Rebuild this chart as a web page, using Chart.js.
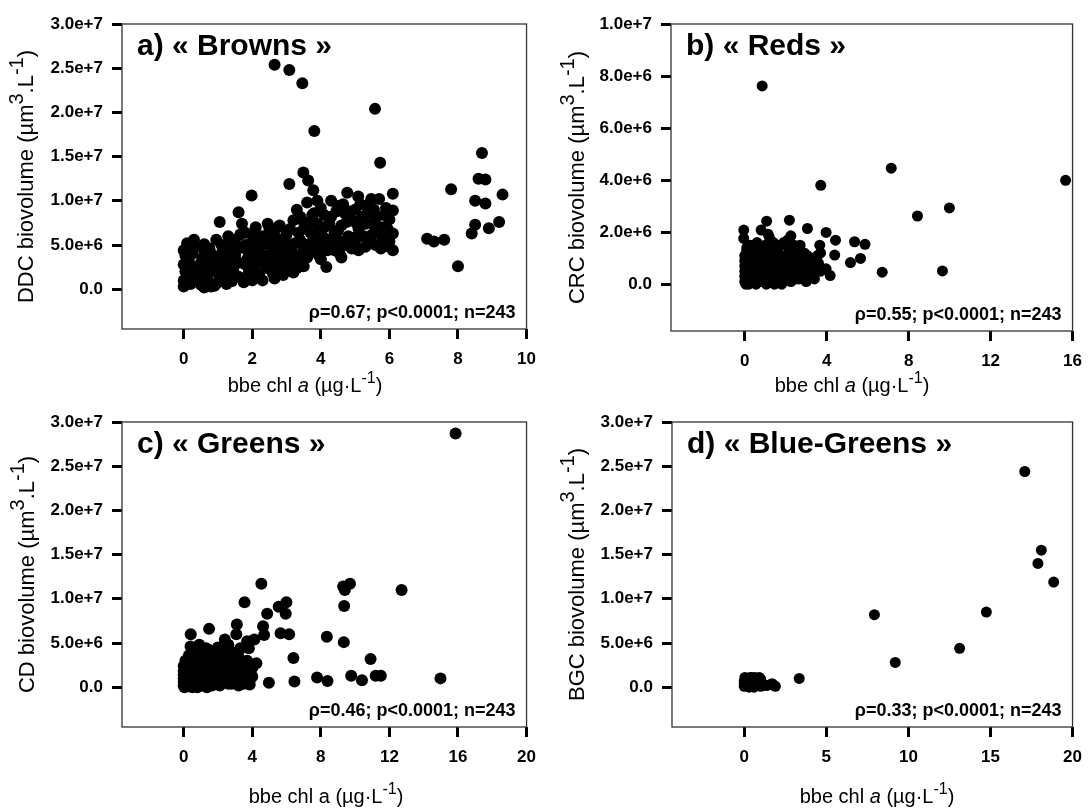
<!DOCTYPE html>
<html>
<head>
<meta charset="utf-8">
<script src="https://cdn.jsdelivr.net/npm/chart.js@4"></script>
<style>
  body { margin: 0; background: #fff; width: 1092px; height: 810px; position: relative; overflow: hidden; }
  canvas { position: absolute; }
</style>
</head>
<body>
<canvas id="panelA" width="546" height="410" style="left:0;top:0"></canvas>
<canvas id="panelB" width="546" height="410" style="left:546px;top:0"></canvas>
<canvas id="panelC" width="546" height="412" style="left:0;top:398px"></canvas>
<canvas id="panelD" width="546" height="412" style="left:546px;top:398px"></canvas>
<script>
// ---- data (x = bbe chl a in µg/L, y = biovolume in 1e6 µm3/L) ----
const brownsChl = [2.65,3.08,3.46,3.81,5.58,5.73,3.49,3.63,3.78,3.08,1.98,4.77,5.09,5.47,
  6.1,6.1,6.0,6.1,5.9,6.1,7.1,7.3,7.6,8.0,7.8,8.4,8.5,8.6,8.8,8.7,8.8,8.9,9.2,9.3,8.5,
  0,0,0.05,0,0.05,0,0.1,0.3,0.2,0.3,0.35,0.5,0.5,0.55,0.6,0.7,0.8,0.9,1.0,1.0,1.05,1.1,1.2,1.25,1.3,1.4,1.4,1.5,1.5,1.6,1.6,1.7,1.7,1.8,1.8,1.9,1.9,
  2.0,2.1,2.1,2.2,2.2,2.3,2.4,2.4,2.5,2.5,2.6,2.6,2.7,2.7,2.8,2.8,2.9,3.0,3.0,3.1,3.1,3.2,3.2,3.3,3.3,3.4,3.4,3.5,3.5,3.6,3.6,3.7,3.7,3.8,3.8,3.9,
  4.0,4.0,4.1,4.16,4.2,4.3,4.4,4.4,4.5,4.6,4.6,4.7,4.8,4.9,4.9,5.0,5.0,5.1,5.2,5.3,5.3,5.4,5.5,5.6,5.6,5.7,5.8,5.8,
  0.15,0.4,0.65,0.75,0.9,1.15,1.3,2.0,2.3,2.9,3.2,3.5,4.0,4.6,2.0,1.1,0.6,3.9,4.3,5.9,
  0.2,0.25,0.45,0.5,0.6,0.7,0.8,0.85,0.95,1.0,1.1,1.2,1.25,1.35,1.45,1.55,1.6,1.65,1.75,1.8,1.85,1.95,
  2.05,2.1,2.15,2.2,2.3,2.35,2.4,2.45,2.55,2.6,2.65,2.7,2.75,2.85,2.9,2.95,3.05,3.1,3.15,3.25,3.3,3.35,3.45,3.5,3.55,3.65,3.7,3.75,3.85,3.9,3.95,
  4.05,4.1,4.2,4.25,4.35,4.45,4.5,4.55,4.65,4.7,4.75,4.85,4.95,5.05,5.1,5.15,5.25,5.35,5.45,5.5,5.55,5.65,5.75,5.85,5.95,6.0];
const brownsVol = [25.4,24.8,23.3,17.9,20.4,14.3,13.2,12.3,11.2,11.9,10.6,10.9,10.5,10.2,
  10.8,8.9,7.9,6.3,4.9,4.4,5.7,5.4,5.6,2.6,11.3,6.3,10.0,12.5,12.4,15.4,9.7,6.9,7.6,10.7,7.3,
  0.3,1.0,2.0,2.8,3.8,4.4,5.2,5.6,0.6,1.5,4.8,0.5,2.4,3.5,5.1,1.1,4.0,2.1,0.8,3.3,7.6,5.0,1.6,4.3,6.0,2.6,0.9,3.8,5.6,8.7,1.4,4.7,7.4,2.8,6.4,3.9,1.9,
  5.4,7.0,3.0,1.6,4.6,6.0,2.4,3.6,5.0,6.9,1.8,4.2,3.0,5.8,7.2,2.2,4.6,3.4,6.2,5.0,2.4,7.8,4.0,9.0,3.0,5.5,8.2,6.8,4.6,9.8,3.6,7.6,5.2,8.6,4.2,6.2,
  9.2,4.8,7.0,2.5,5.6,8.2,6.4,4.4,9.4,7.2,5.4,8.6,6.0,4.6,7.8,9.0,5.4,6.8,8.2,4.8,7.4,9.6,6.2,8.0,5.0,10.2,7.0,5.8,
  3.2,2.0,3.0,4.6,0.4,2.6,3.6,2.4,3.2,1.6,1.9,2.6,3.4,3.6,1.0,1.2,0.2,10.0,10.0,9.2,
  2.6,4.0,1.2,3.0,4.2,2.0,0.3,3.0,5.6,1.8,4.0,3.0,0.6,5.0,2.0,4.6,3.0,6.2,0.8,5.0,3.4,4.4,
  6.2,2.0,4.0,5.4,1.0,3.8,5.6,7.4,3.0,6.2,1.2,4.6,7.0,3.8,5.6,2.8,4.4,6.8,3.6,5.2,2.4,6.4,3.8,7.6,5.0,4.0,6.4,8.4,5.4,7.4,3.8,
  6.0,8.4,4.4,7.4,5.4,8.8,6.6,4.0,9.6,5.0,7.6,8.8,5.8,7.4,4.4,9.6,6.0,8.6,5.4,7.4,9.0,6.6,4.6,8.4,6.8,5.4];

const redsChl = [0.85,7.15,3.71,15.66,8.43,9.99,5.87,5.36,5.65,5.16,6.71,9.65,4.43,4.39,4.17,3.97,3.97,3.66,3.44,3.15,
  3.06,2.18,2.25,1.07,0.80,1.14,-0.05,-0.05,0.26,1.6,2.6,
  0,0,0,0,0,0,0.1,0.15,0.2,0.2,0.3,0.3,0.4,0.4,0.5,0.5,0.6,0.6,0.7,0.8,0.8,0.9,0.9,1.0,1.1,1.1,1.2,1.3,1.3,1.4,1.5,1.5,1.6,1.7,1.8,1.8,1.9,
  2.0,2.0,2.2,2.2,2.3,2.4,2.5,2.6,2.7,2.8,2.9,3.0,3.1,3.3,3.4,3.6,3.7,2.1,1.2,0.5,0.1,1.4,2.7,
  0.05,0.1,0.1,0.2,0.25,0.3,0.35,0.45,0.5,0.55,0.6,0.65,0.7,0.75,0.85,0.9,0.95,1.0,1.05,1.15,1.2,1.25,1.35,1.4,1.45,1.55,1.6,1.65,1.75,1.8,1.85,1.95,
  2.05,2.1,2.15,2.25,2.3,2.35,2.45,2.5,2.55,2.65,2.7,2.75,2.85,2.9,3.0,3.05,3.2,3.25,3.4,3.5,3.55,3.7,1.9,0.6,2.4,1.0];
const redsVol = [7.62,4.46,3.80,3.99,2.62,2.93,1.53,1.63,0.99,0.83,0.46,0.51,1.69,1.12,0.33,0.59,1.99,1.50,0.99,0.23,
  2.14,2.46,1.86,2.42,2.08,1.92,2.08,1.76,1.50,1.50,1.40,
  0.1,0.3,0.5,0.7,0.9,1.1,0.2,0.6,1.0,0.4,0.8,0.1,0.5,1.2,0.3,0.9,0.6,0.1,1.0,0.4,0.8,1.3,0.2,0.6,1.0,0.3,0.8,1.4,0.5,0.2,0.9,0.6,1.2,0.4,0.8,1.5,0.2,
  0.6,1.1,0.9,0.3,1.3,0.6,0.2,1.0,0.5,0.8,1.2,0.4,0.7,1.0,0.5,0.8,1.2,1.7,1.8,1.4,1.3,1.6,1.5,
  0.0,0.6,1.4,0.0,0.8,1.3,0.3,0.7,1.1,0.0,0.9,0.3,1.3,0.6,0.1,0.9,0.5,1.2,0.0,0.7,1.3,0.3,1.0,0.6,0.0,1.3,0.3,0.8,1.1,0.0,0.5,1.0,
  0.3,0.8,1.4,0.1,0.7,1.1,0.4,0.9,1.3,0.2,0.7,1.1,0.4,0.9,0.1,1.1,0.5,0.9,0.2,0.7,1.1,0.5,1.6,1.6,1.5,1.5];

const greensChl = [15.86,4.53,9.30,9.7,9.4,12.71,9.36,3.55,5.54,5.99,5.95,4.87,4.63,4.69,4.12,3.7,5.65,6.15,8.35,9.34,
  6.40,10.9,4.24,4.97,6.46,7.78,8.39,9.77,10.4,11.2,11.5,14.98,3.1,3.07,2.4,1.48,0.91,0.41,
  0,0,0,0,0,0,0.1,0.2,0.2,0.3,0.3,0.4,0.5,0.5,0.6,0.7,0.7,0.8,0.9,0.9,1.0,1.1,1.1,1.2,1.3,1.3,1.4,1.5,1.5,1.6,1.7,1.8,1.9,
  2.0,2.0,2.1,2.2,2.3,2.4,2.5,2.6,2.7,2.8,2.9,3.0,3.1,3.2,3.3,3.4,3.5,3.6,3.7,3.9,4.0,0.4,1.0,2.6,3.3,
  0.05,0.1,0.1,0.15,0.2,0.25,0.3,0.35,0.4,0.45,0.5,0.55,0.6,0.65,0.7,0.75,0.8,0.85,0.95,1.0,1.05,1.1,1.15,1.2,1.25,1.3,1.35,1.4,1.45,1.55,1.6,1.65,1.7,1.75,1.8,1.85,1.95,
  2.05,2.1,2.15,2.2,2.3,2.35,2.4,2.45,2.55,2.6,2.65,2.75,2.8,2.85,2.95,3.0,3.05,3.15,3.2,3.25,3.35,3.45,3.5,3.6,3.65,3.75,3.85,4.0,3.8];
const greensVol = [28.7,11.7,11.4,11.7,11.0,11.0,9.2,9.6,9.1,9.6,8.3,8.3,6.9,5.9,5.4,5.2,6.1,6.0,5.7,5.1,
  3.3,3.2,2.7,0.5,0.65,1.1,0.7,1.3,0.8,1.3,1.3,1.0,7.1,6.0,5.4,6.6,4.8,6.0,
  0.2,0.6,1.0,1.4,1.8,2.4,3.0,0.4,1.2,2.0,3.6,0.8,1.6,2.8,0.2,1.0,3.2,2.2,0.5,1.6,4.0,2.6,0.9,1.8,0.3,3.0,1.2,2.2,4.2,0.7,3.4,1.6,2.6,
  0.5,4.5,1.2,3.0,2.0,0.8,3.8,1.6,2.6,0.4,3.4,1.4,2.2,4.0,1.0,2.8,0.4,1.8,3.0,1.0,2.2,4.6,2.0,4.8,4.4,
  0.0,0.8,2.0,1.4,2.6,0.1,1.0,3.0,0.4,2.2,0.0,1.2,3.6,0.6,2.4,1.6,0.0,2.8,1.2,0.2,3.4,1.6,0.5,2.6,1.2,4.4,0.0,2.0,3.4,1.0,2.8,0.2,1.8,4.0,0.8,3.0,1.8,
  2.8,0.2,3.8,1.4,4.0,0.6,2.6,1.8,3.2,0.4,4.2,1.2,3.0,2.0,0.8,3.8,2.6,1.6,0.2,3.2,2.0,1.2,2.8,0.8,2.4,1.6,0.3,1.2,4.4];

const blueChl = [17.09,18.10,17.89,18.85,7.93,14.75,13.12,9.2,3.35,1.82,1.4,0.92,0.46,0.04,
  0,0,0,0.1,0.2,0.3,0.4,0.5,0.6,0.7,0.8,0.9,1.0,1.1,1.2,0.3,0.6,1.6,1.9,
  0.15,0.45,0.75,0.85,0.35,0.65,1.0,1.7];
const blueVol = [24.4,15.5,14.0,11.9,8.2,8.5,4.4,2.8,1.0,0.2,0.2,1.1,1.1,1.1,
  0.1,0.4,0.7,1.0,0.2,0.5,0.9,0.1,0.4,0.8,0.2,0.6,0.1,0.4,0.2,0.0,0.0,0.3,0.1,
  0.7,0.4,0.5,1.0,1.1,1.1,0.9,0.4];

// ---- ticks ----
const ticksA = [0, 2, 4, 6, 8, 10];
const ticksB = [0, 4, 8, 12, 16];
const ticksC = [0, 4, 8, 12, 16, 20];
const ticksD = [0, 5, 10, 15, 20];
const volTicks30 = [0, 5e6, 1e7, 1.5e7, 2e7, 2.5e7, 3e7];
const volLabels30 = ['0.0', '5.0e+6', '1.0e+7', '1.5e+7', '2.0e+7', '2.5e+7', '3.0e+7'];
const volTicks10 = [0, 2e6, 4e6, 6e6, 8e6, 1e7];
const volLabels10 = ['0.0', '2.0e+6', '4.0e+6', '6.0e+6', '8.0e+6', '1.0e+7'];

const FONT = '"Liberation Sans", Arial, sans-serif';

// text with superscripts / italics: parts = [[text, kind]], kind '' | 'i' | 's'
function drawRich(ctx, parts, x, y, size, supScale) {
  const fontFor = k => (k === 'i' ? 'italic ' : '') + (k === 's' ? Math.round(size * supScale) : size) + 'px ' + FONT;
  let total = 0;
  parts.forEach(p => { ctx.font = fontFor(p[1]); total += ctx.measureText(p[0]).width; });
  let cx = x - total / 2;
  ctx.textAlign = 'left';
  ctx.textBaseline = 'alphabetic';
  parts.forEach(p => {
    ctx.font = fontFor(p[1]);
    ctx.fillText(p[0], cx, p[1] === 's' ? y - size * 0.45 : y);
    cx += ctx.measureText(p[0]).width;
  });
}

function decoPlugin(cfg) {
  return {
    id: 'deco',
    afterDraw(chart) {
      const ctx = chart.ctx;
      const a = chart.chartArea;
      ctx.save();
      ctx.strokeStyle = '#333';
      ctx.lineWidth = 1.3;
      ctx.strokeRect(a.left, a.top, a.right - a.left, a.bottom - a.top);
      ctx.fillStyle = '#000';
      ctx.textBaseline = 'alphabetic';
      ctx.textAlign = 'left';
      ctx.font = 'bold 30px ' + FONT;
      ctx.fillText(cfg.label, a.left + 15, a.top + 31);
      ctx.textAlign = 'right';
      ctx.font = 'bold 18px ' + FONT;
      ctx.fillText(cfg.stats, a.right - 11, a.bottom - 11);
      drawRich(ctx, cfg.xTitle, cfg.xTitleX, cfg.xTitleY, 20, 0.8);
      ctx.translate(cfg.yTitleX, (a.top + a.bottom) / 2);
      ctx.rotate(-Math.PI / 2);
      drawRich(ctx, cfg.yTitle, 0, 0, 22, 0.9);
      ctx.restore();
    }
  };
}

function buildPanel(id, cfg) {
  const canvas = document.getElementById(id);
  const W = canvas.width, H = canvas.height;
  const tickFont = { family: FONT, size: 17, weight: 'bold' };
  const tickGrid = { drawOnChartArea: false, drawTicks: true, tickLength: 10, tickWidth: 3, tickColor: '#000' };
  return new Chart(canvas, {
    type: 'scatter',
    data: {
      datasets: [{
        data: cfg.xs.map((x, i) => ({ x: x, y: cfg.ys[i] * 1e6 })),
        backgroundColor: '#000',
        borderWidth: 0,
        pointRadius: cfg.r,
        pointHoverRadius: cfg.r
      }]
    },
    options: {
      responsive: false,
      animation: false,
      events: [],
      layout: { padding: { left: 0, top: cfg.area.top, right: W - cfg.area.right, bottom: 0 } },
      plugins: { legend: { display: false }, tooltip: { enabled: false } },
      scales: {
        x: {
          type: 'linear', min: cfg.xRange[0], max: cfg.xRange[1],
          afterBuildTicks: s => { s.ticks = cfg.xTicks.map(v => ({ value: v })); },
          afterFit: s => { s.height = H - cfg.area.bottom; },
          grid: tickGrid,
          border: { display: false },
          ticks: { padding: 10, color: '#000', font: tickFont, maxRotation: 0, autoSkip: false,
                   callback: (v, i) => String(cfg.xTicks[i]) }
        },
        y: {
          type: 'linear', min: cfg.yRange[0], max: cfg.yRange[1],
          afterBuildTicks: s => { s.ticks = cfg.yTicks.map(v => ({ value: v })); },
          afterFit: s => { s.width = cfg.area.left; },
          grid: tickGrid,
          border: { display: false },
          ticks: { padding: 9, color: '#000', font: tickFont, autoSkip: false,
                   callback: (v, i) => cfg.yLabels[i] }
        }
      }
    },
    plugins: [decoPlugin(cfg)]
  });
}

const xTitleItalic = [['bbe chl ', ''], ['a', 'i'], [' (µg·L', ''], ['-1', 's'], [')', '']];
const xTitlePlain = [['bbe chl a (µg·L', ''], ['-1', 's'], [')', '']];
const yTitle = name => [[name + ' biovolume (µm', ''], ['3', 's'], ['.L', ''], ['-1', 's'], [')', '']];

buildPanel('panelA', {
  xs: brownsChl, ys: brownsVol, r: 6,
  area: { left: 122, top: 24, right: 527, bottom: 329 },
  xRange: [-1.8, 10], yRange: [-4.5e6, 3e7],
  xTicks: ticksA, yTicks: volTicks30, yLabels: volLabels30,
  label: 'a) « Browns »', stats: 'ρ=0.67; p<0.0001; n=243',
  xTitle: xTitleItalic, xTitleX: 305, xTitleY: 392,
  yTitle: yTitle('DDC'), yTitleX: 33
});
buildPanel('panelB', {
  xs: redsChl, ys: redsVol, r: 5.5,
  area: { left: 125, top: 24, right: 531, bottom: 331 },
  xRange: [-3.6, 16], yRange: [-1.8e6, 1e7],
  xTicks: ticksB, yTicks: volTicks10, yLabels: volLabels10,
  label: 'b) « Reds »', stats: 'ρ=0.55; p<0.0001; n=243',
  xTitle: xTitleItalic, xTitleX: 306, xTitleY: 392,
  yTitle: yTitle('CRC'), yTitleX: 38
});
buildPanel('panelC', {
  xs: greensChl, ys: greensVol, r: 6,
  area: { left: 122, top: 24, right: 527, bottom: 329 },
  xRange: [-3.6, 20], yRange: [-4.5e6, 3e7],
  xTicks: ticksC, yTicks: volTicks30, yLabels: volLabels30,
  label: 'c) « Greens »', stats: 'ρ=0.46; p<0.0001; n=243',
  xTitle: xTitlePlain, xTitleX: 326, xTitleY: 405,
  yTitle: yTitle('CD'), yTitleX: 34
});
buildPanel('panelD', {
  xs: blueChl, ys: blueVol, r: 5.5,
  area: { left: 126, top: 24, right: 534, bottom: 329 },
  xRange: [-4.4, 20], yRange: [-4.5e6, 3e7],
  xTicks: ticksD, yTicks: volTicks30, yLabels: volLabels30,
  label: 'd) « Blue-Greens »', stats: 'ρ=0.33; p<0.0001; n=243',
  xTitle: xTitleItalic, xTitleX: 331, xTitleY: 405,
  yTitle: yTitle('BGC'), yTitleX: 38
});
</script>
</body>
</html>
